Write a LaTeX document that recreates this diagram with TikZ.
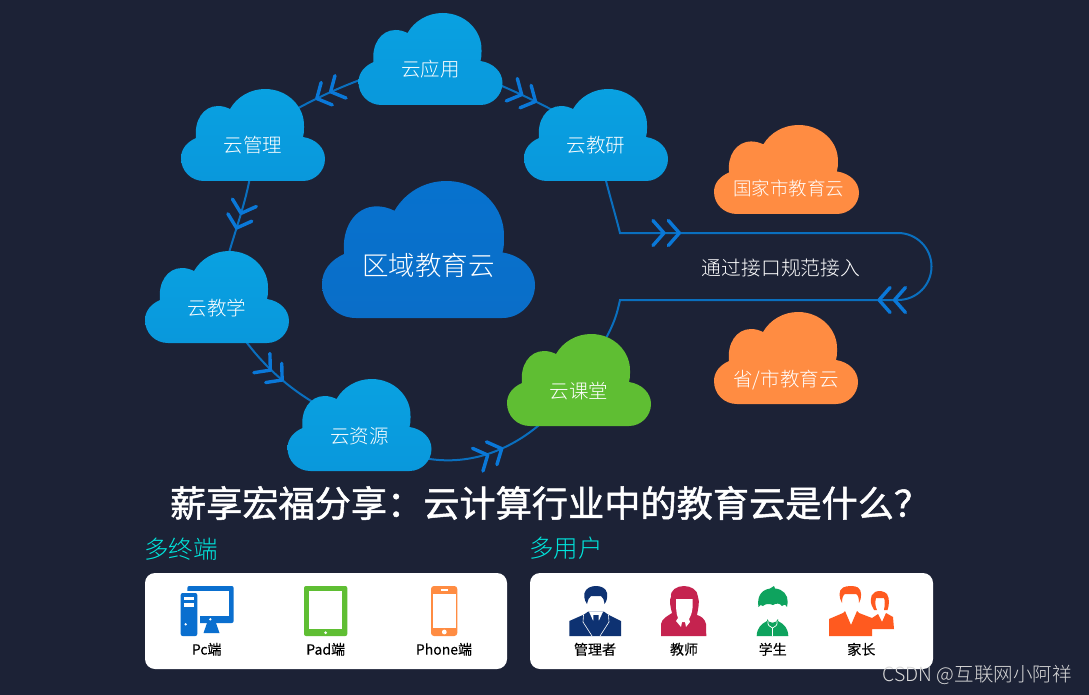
\documentclass[tikz,border=0pt]{standalone}
\usepackage{fontspec}
\setmainfont{Noto Sans CJK SC Light}
\newfontfamily\titlefont[FakeBold=1.4]{Noto Sans CJK SC}
\newfontfamily\captionfont[FakeBold=0.3]{Noto Sans CJK SC}
\usetikzlibrary{arrows.meta,decorations.markings,positioning}
\definecolor{pagebg}{HTML}{1C2236}
\definecolor{linkblue}{HTML}{0A6FBE}
\definecolor{tipblue}{HTML}{0A78D8}
\definecolor{orangeicon}{HTML}{FF8C42}
\definecolor{greenicon}{HTML}{5FBE33}
\definecolor{blueicon}{HTML}{0A6FCF}
\definecolor{navyicon}{HTML}{0E3272}
\definecolor{redicon}{HTML}{C5234F}
\definecolor{studenticon}{HTML}{0EA35E}
\definecolor{parenticon}{HTML}{FF5A1F}
\definecolor{headcyan}{HTML}{00E5DC}
\definecolor{sky1}{HTML}{09A1E1}
\definecolor{sky2}{HTML}{0998DC}
\definecolor{deep1}{HTML}{0772CE}
\definecolor{deep2}{HTML}{0A6EC8}
\tikzset{
	cloudbox/.style={inner sep=0pt,text=white},
	skyfill/.style={top color=sky1,bottom color=sky2},
	deepfill/.style={top color=deep1,bottom color=deep2},
	link/.style={draw=linkblue,line width=2pt},
	chevron/.style={postaction={decorate,decoration={markings,mark=at position #1 with {\arrow{twotip}}}}},
	twotip/.tip={Straight Barb[length=11pt,width=25pt,line width=3.4pt,round,color=tipblue,sep=1pt]Straight Barb[length=11pt,width=25pt,line width=3.4pt,round,color=tipblue]},
	panel/.style={fill=white,rounded corners=10pt},
	caption/.style={text=black,font=\captionfont\fontsize{14}{15}\selectfont},
	heading/.style={text=headcyan,font=\fontsize{24.5}{25}\selectfont},
}
\newcommand{\dropped}[2]{\raisebox{#1}[0pt][0pt]{#2}}
% name, centre, width, height, fill, font size, text
\newcommand{\cloudnode}[7]{%
	\path [#5,shift={(#2)},xscale=#3/144,yscale=#4/92,shift={(-72,-46)}]
		(23,92) .. controls (10,92) and (0,82) .. (0,69) .. controls (0,60) and (6,53) .. (15,49)
		.. controls (13,32) and (22,17) .. (37,17) .. controls (41,17) and (45,18) .. (49,20)
		.. controls (56,8) and (69,0) .. (84,0) .. controls (107,0) and (124,18) .. (123,38)
		.. controls (123,42) and (123,45) .. (122,48) .. controls (135,50) and (144,59) .. (144,70)
		.. controls (144,82) and (134,92) .. (122,92) -- cycle;
	\node (#1) [cloudbox,minimum width=#3pt,minimum height=#4pt,font=\fontsize{#6}{#6}\selectfont] at (#2) {#7};
}
\pgfdeclarelayer{background}
\pgfsetlayers{background,main}
\begin{document}
\begin{tikzpicture}[x=1pt,y=-1pt]
	\useasboundingbox (0,0) rectangle (1089,695);
	\cloudnode{quyu}{428.5,249.5}{213}{137}{deepfill}{26.5}{\dropped{-25.5pt}{区域教育云}}
	\cloudnode{yingyong}{430.5,59}{144}{92}{skyfill}{19.5}{\dropped{-18pt}{云应用}}
	\cloudnode{guanli}{253,135}{144}{92}{skyfill}{19.5}{\dropped{-18pt}{云管理}}
	\cloudnode{jiaoyan}{596,135}{144}{92}{skyfill}{19.5}{\dropped{-18pt}{云教研}}
	\cloudnode{jiaoxue}{217,297}{144}{92}{skyfill}{19.5}{\dropped{-18pt}{云教学}}
	\cloudnode{ziyuan}{359.5,425}{144}{92}{skyfill}{19.5}{\dropped{-18pt}{云资源}}
	\cloudnode{ketang}{579,380}{144}{92}{fill=greenicon}{19.5}{\dropped{-18pt}{云课堂}}
	\cloudnode{guojia}{786.5,169.5}{145}{89}{fill=orangeicon}{18.5}{\dropped{-26pt}{\hspace*{4pt}国家市教育云}}
	\cloudnode{sheng}{786,358}{144}{92}{fill=orangeicon}{19.5}{\dropped{-28pt}{省/市教育云}}
	\node (jieru) [text=white,font=\fontsize{19.8}{20}\selectfont] at (781,268) {通过接口规范接入};

	\begin{pgfonlayer}{background}
		\fill [pagebg] (0,0) rectangle (1089,695);
		\draw [link,chevron=0.63] (yingyong.center) .. controls (385,70) and (330,85) .. (guanli.center);
		\draw [link,chevron=0.63] (yingyong.center) .. controls (480,75) and (540,100) .. (jiaoyan.center);
		\draw [link,chevron=0.58] (guanli.center) .. controls (255,190) and (234,225) .. (jiaoxue.center);
		\draw [link,chevron=0.55] (jiaoxue.center) .. controls (240,335) and (270,390) .. (ziyuan.center);
		\draw [link,chevron=0.6] (ziyuan.center) .. controls (420,480) and (515,475) .. (ketang.center);
		\draw [link,chevron=162pt,chevron=-348pt] (jiaoyan.center) .. controls (603,175) and (613,205) .. (620,233) -- (898,233)
			arc[start angle=-90,end angle=90,radius=33.5] -- (620,300) .. controls (616,318) and (613,332) .. (ketang.center);
	\end{pgfonlayer}

	\node (title) [text=white,font=\titlefont\fontsize{36.2}{37}\selectfont] at (550,503) {薪享宏福分享：云计算行业中的教育云是什么？};
	\node (duozhong) [heading] at (181,549) {多终端};
	\node (duoyong) [heading] at (566,548) {多用户};
	\fill [panel] (145,573) rectangle (507,669);
	\fill [panel] (530,573) rectangle (933,669);

	% terminals
	\fill [blueicon,rounded corners=2pt] (187.3,586) rectangle (233.7,623);
	\fill [white] (175,590.7) rectangle (229.3,616);
	\fill [white] (175,616) rectangle (200.3,625);
	\fill [blueicon,rounded corners=2pt] (180.7,593) rectangle (197.3,636);
	\fill [white] (184.3,596.7) rectangle (194,600);
	\fill [white] (184.3,603.3) rectangle (194,606.7);
	\fill [white] (185.7,624.3) circle (1.3);
	\fill [white] (210.3,619.3) circle (1.3);
	\fill [blueicon] (207,623) -- (216,623) -- (219.5,633) -- (203.5,633) -- cycle;
	\fill [greenicon,rounded corners=2pt] (304,586) rectangle (347.3,636);
	\fill [white] (309.3,591.3) rectangle (342,629.3);
	\fill [white] (325.6,632.7) circle (1.5);
	\fill [orangeicon,rounded corners=3pt] (431,586) rectangle (457.3,636);
	\fill [white] (432.7,594.3) rectangle (455.7,627.7);
	\fill [white] (441,589.3) rectangle (447.7,590.7);
	\fill [white] (444.3,632) circle (2.4);
	\node (pc) [caption] at (206.7,649.3) {Pc端};
	\node (pad) [caption] at (325.7,649.3) {Pad端};
	\node (phone) [caption] at (444,649.3) {Phone端};

	% users
	\fill [navyicon] (587,604) .. controls (584,600) and (584,595) .. (584.5,593) .. controls (586,588) and (591,586) .. (596,586)
		.. controls (601,586) and (606,588) .. (607,593) .. controls (607.5,597) and (607,601) .. (604.5,604)
		.. controls (604,600) and (603,597) .. (601,596) -- (591,596) .. controls (589,597) and (588,600) .. (587,604) -- cycle;
	\fill [navyicon] (569.3,636) -- (569.3,621) -- (584,614.5) -- (588,611.7) -- (604,611.7) -- (608,614.5) -- (621,621) -- (621,636) -- cycle;
	\fill [white] (589,611.7) -- (596,627) -- (603,611.7) -- cycle;
	\fill [navyicon] (593.5,615) -- (598.5,615) -- (599,626) -- (596,632) -- (593,626) -- cycle;
	\draw [white,line width=0.6pt] (583.5,615) -- (583,622) -- (592,636);
	\draw [white,line width=0.6pt] (608.5,615) -- (609,622) -- (600,636);
	\fill [redicon] (661,636) -- (661,624) .. controls (662,618) and (668,616) .. (672,613) .. controls (670,605) and (669,600) .. (671,597)
		.. controls (670,590) and (677,586) .. (684,586) .. controls (691,586) and (698,590) .. (698,597)
		.. controls (700,602) and (698,609) .. (697,615) .. controls (701,616) and (705,619) .. (706,624) -- (706.3,636) -- cycle;
	\fill [white] (676,599) -- (692.7,599) -- (692.5,608) .. controls (692,614) and (690,617) .. (689,619) -- (690,622) -- (686,627) -- (685,622) -- (682,622) -- (681,627) -- (676,621) -- (678,618) .. controls (676,614) and (676,606) .. (676,599) -- cycle;
	\fill [studenticon] (758.5,607) .. controls (757,598) and (760,590) .. (770,588.5) -- (774,586) -- (775,588.5) .. controls (783,589) and (788,595) .. (787.7,602)
		.. controls (787.7,604) and (787.5,605) .. (787,607) .. controls (785,604) and (784,604) .. (782,606) .. controls (780,603) and (776,603) .. (773,605)
		.. controls (769,603) and (765,604) .. (763,606) .. controls (761,604) and (760,605) .. (758.5,607) -- cycle;
	\fill [studenticon] (756.7,636) .. controls (757,628) and (761,624) .. (767,621) -- (767,619) .. controls (769,624) and (776,624) .. (778,619) -- (778,621) .. controls (784,624) and (788,628) .. (788.3,636) -- cycle;
	\draw [white,line width=0.7pt] (768,621) .. controls (767,625) and (770,627) .. (772.5,628) -- (772.5,636);
	\draw [white,line width=0.7pt] (777,621) .. controls (778,625) and (775,627) .. (772.5,628);
	\fill [parenticon] (842,603) .. controls (839,598) and (838,590) .. (843,587.5) .. controls (847,585.5) and (855,585.5) .. (858,587.5) .. controls (862,590) and (862,598) .. (859,603)
		.. controls (859,598) and (858,595) .. (856,594) -- (845,594) .. controls (843,595) and (842,598) .. (842,603) -- cycle;
	\fill [parenticon] (829,636) -- (829,619) -- (843,613) -- (845,611) -- (851,625) -- (857,611) -- (859,613) -- (872,618) -- (878,614) -- (882,622) -- (886,613) -- (893,617) -- (894,629) -- (872,629) -- (872,636) -- cycle;
	\fill [parenticon] (874,610) .. controls (870,604) and (869,595) .. (875,592) .. controls (879,590) and (884,591) .. (887,594) .. controls (890,599) and (889,606) .. (887.5,610)
		-- (884,610) .. controls (885,605) and (885,600) .. (884,598) -- (876,598) .. controls (875,602) and (875,606) .. (877,610) -- cycle;
	\node (admin) [caption] at (595,649.3) {管理者};
	\node (teacher) [caption] at (684,649.3) {教师};
	\node (student) [caption] at (772.7,649.3) {学生};
	\node (parent) [caption] at (861.3,649.3) {家长};
	\node (mark) [text=white!85!black,font=\fontsize{19.5}{20}\selectfont] at (977,675) {CSDN @互联网小阿祥};
\end{tikzpicture}
\end{document}
